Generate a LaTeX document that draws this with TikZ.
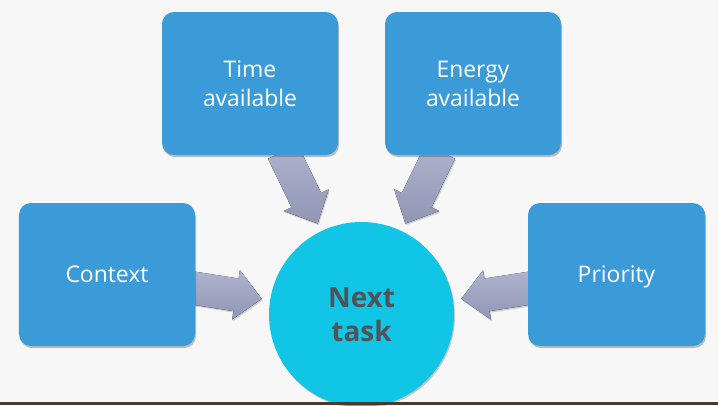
\documentclass[tikz,border=0pt]{standalone}
\usepackage{fontspec}
\setmainfont{Open Sans}
\usetikzlibrary{calc,shadows}

\definecolor{pagebg}{RGB}{247,247,247}
\definecolor{boxblue}{RGB}{59,155,217}
\definecolor{hubcyan}{RGB}{17,197,230}
\definecolor{arrowtop}{RGB}{174,179,207}
\definecolor{arrowbot}{RGB}{144,150,179}
\definecolor{hubtext}{RGB}{78,84,88}
\definecolor{footerbar}{RGB}{72,58,46}

\pgfdeclarelayer{bg}
\pgfdeclarelayer{arrows}
\pgfsetlayers{bg,arrows,main}

\tikzset{
  factor/.style={rectangle, rounded corners=12bp, fill=boxblue,
    minimum width=176bp, minimum height=143bp, inner sep=0pt,
    text=white, align=center,
    font=\fontsize{23}{29}\selectfont,
    drop shadow={shadow xshift=1bp, shadow yshift=-2bp, opacity=0.35, fill=black!70}},
  oneline/.style={text height=17bp, text depth=2bp},
  hub/.style={circle, fill=hubcyan, minimum size=185bp, inner sep=0pt,
    text=hubtext, align=center,
    font=\fontsize{28}{34}\selectfont\bfseries,
    drop shadow={shadow xshift=1bp, shadow yshift=-1.5bp, opacity=0.3, fill=black!70}},
  blockfill/.style={top color=arrowtop, bottom color=arrowbot,
    drop shadow={shadow xshift=1bp, shadow yshift=-1.5bp, opacity=0.25, fill=black!70}}
}

% broad block arrow from node #1 pointing at node #2
\newcommand\blockarrow[2]{%
  \begin{pgfonlayer}{arrows}
    \coordinate (tipP) at ($(#2.center)!101bp!(#1.center)$);
    \coordinate (tailP) at ($(#2.center)!181bp!(#1.center)$);
    \coordinate (neckP) at ($(tipP)!26bp!(tailP)$);
    \fill[blockfill]
      ($(tailP)!16.5bp!90:(tipP)$) -- ($(neckP)!16.5bp!90:(tipP)$)
      -- ($(neckP)!25bp!90:(tipP)$) -- (tipP)
      -- ($(neckP)!25bp!-90:(tipP)$) -- ($(neckP)!16.5bp!-90:(tipP)$)
      -- ($(tailP)!16.5bp!-90:(tipP)$) -- cycle;
  \end{pgfonlayer}}

\begin{document}
\begin{tikzpicture}[x=1bp, y=-1bp]
  \useasboundingbox (0,0) rectangle (718,405);
  \begin{pgfonlayer}{bg}
    \fill[pagebg] (0,0) rectangle (718,405);
  \end{pgfonlayer}

  % the task in the middle and the four factors around it
  \node[hub] (next) at (361.5,314.5) {Next\\task};
  \node[factor] (time) at (250,83.5) {Time\\available};
  \node[factor] (energy) at (473,83.5) {Energy\\available};
  \node[factor, oneline] (ctx) at (107,274.5) {Context};
  \node[factor, oneline, minimum width=177bp] (prio) at (616.5,274.5) {Priority};

  % arrows from each factor into the task
  \blockarrow{ctx}{next}
  \blockarrow{time}{next}
  \blockarrow{energy}{next}
  \blockarrow{prio}{next}

  % footer bar along the bottom edge
  \fill[footerbar] (0,402) rectangle (718,405);
\end{tikzpicture}
\end{document}
